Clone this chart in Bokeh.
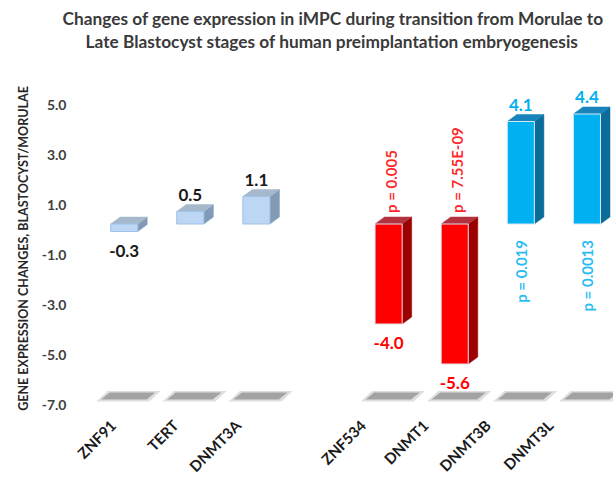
import math
from bokeh.plotting import figure
from bokeh.models import Range1d, FixedTicker, ColumnDataSource, Title
from bokeh.core.properties import value
from bokeh.embed import file_html
from bokeh.resources import INLINE

# ---------------- data ----------------
title_lines = ["Changes of gene expression in iMPC during transition from Morulae to",
               "Late Blastocyst stages of human preimplantation embryogenesis"]
y_label = "GENE EXPRESSION CHANGES, BLASTOCYST/MORULAE"
genes = ["ZNF91", "TERT", "DNMT3A", "ZNF534", "DNMT1", "DNMT3B", "DNMT3L"]
group = [0, 0, 0, 1, 1, 1, 1]
fold_change = [-0.3, 0.5, 1.1, -4.0, -5.6, 4.1, 4.4]
value_labels = ["-0.3", "0.5", "1.1", "-4.0", "-5.6", "4.1", "4.4"]
p_values = ["", "", "", "p = 0.005", "p = 7.55E-09", "p = 0.019", "p = 0.0013"]
y_ticks = [5.0, 3.0, 1.0, -1.0, -3.0, -5.0, -7.0]
y_tick_labels = ["5.0", "3.0", "1.0", "-1.0", "-3.0", "-5.0", "-7.0"]
floor_level = -7.0

# ---------------- styling / layout ----------------
FONT = "Lato"
PALETTE = {
    "light": dict(front="#bcd6f3", top="#a5b8cc", side="#819bb7", text="#1a1a1a", edge="#9ec3ea"),
    "red":   dict(front="#ff0000", top="#b3323e", side="#9c0000", text="#ff0000", edge="#dbe3ee"),
    "blue":  dict(front="#00b0f0", top="#1784bb", side="#0b6c9c", text="#00b0f0", edge="#dbe9f4"),
}
GAP = 1                 # empty slot between the two groups
HALF_W = 0.205          # half width of the bar front face (x units)
DEPTH_X = 0.144         # 3D depth offset (x units)
DEPTH_Y = 0.28          # 3D depth offset (y units)
LIFT = 0.22             # projection shift of front faces

W, H = 613, 485
p = figure(width=W, height=H, output_backend="svg", toolbar_location=None,
           x_range=Range1d(-0.7364, 7.402), y_range=Range1d(-7.08, 5.56),
           min_border_left=75, min_border_right=0, min_border_top=90, min_border_bottom=79)
p.outline_line_color = None
p.grid.visible = False
p.background_fill_color = "white"
p.border_fill_color = "white"

xs_pos = [i + GAP * g for i, g in enumerate(group)]

def kind(i):
    if group[i] == 0:
        return "light"
    return "red" if fold_change[i] < 0 else "blue"

# floor shadows
halo_x, halo_y, core_x, core_y = [], [], [], []
for x in xs_pos:
    c = x + 0.05
    b, t = floor_level + 0.20, floor_level + 0.48
    core_x.append([c - 0.40, c + 0.29, c + 0.42, c - 0.27])
    core_y.append([b, b, t, t])
    halo_x.append([c - 0.47, c + 0.33, c + 0.50, c - 0.30])
    halo_y.append([b - 0.08, b - 0.08, t + 0.06, t + 0.06])
p.patches(halo_x, halo_y, fill_color="#dadada", line_color=None, fill_alpha=0.9)
p.patches(core_x, core_y, fill_color="#a3a3a3", line_color=None)

# 3D bars
for i, (x, v) in enumerate(zip(xs_pos, fold_change)):
    col = PALETTE[kind(i)]
    lo, hi = min(0, v) + LIFT, max(0, v) + LIFT
    xl, xr = x - HALF_W, x + HALF_W
    p.patch([xr, xr + DEPTH_X, xr + DEPTH_X, xr], [lo, lo + DEPTH_Y, hi + DEPTH_Y, hi],
            fill_color=col["side"], line_color=col["side"], line_width=0.5)
    p.patch([xl, xr, xr + DEPTH_X, xl + DEPTH_X], [hi, hi, hi + DEPTH_Y, hi + DEPTH_Y],
            fill_color=col["top"], line_color=col["top"], line_width=0.5)
    p.quad(left=[xl], right=[xr], bottom=[lo], top=[hi],
           fill_color=col["front"], line_color=col["edge"], line_width=1)

def sel(cond):
    return [i for i in range(len(genes)) if cond(i)]

# value labels
pos_i = sel(lambda i: fold_change[i] >= 0)
neg_i = sel(lambda i: fold_change[i] < 0)
for idx, off in ((pos_i, -17), (neg_i, 19)):
    src = ColumnDataSource(dict(
        x=[xs_pos[i] for i in idx],
        y=[fold_change[i] + LIFT for i in idx],
        t=[value_labels[i] for i in idx],
        c=[PALETTE[kind(i)]["text"] for i in idx]))
    p.text(x="x", y="y", text="t", source=src, text_color="c", y_offset=off,
           text_align="center", text_baseline="middle", text_font=value(FONT),
           text_font_style="bold", text_font_size="17px")

# p-value labels (vertical)
up_i = sel(lambda i: p_values[i] != "" and fold_change[i] < 0)
dn_i = sel(lambda i: p_values[i] != "" and fold_change[i] > 0)
up_src = ColumnDataSource(dict(
    x=[xs_pos[i] + 0.04 for i in up_i], y=[LIFT + DEPTH_Y for i in up_i],
    t=[p_values[i] for i in up_i], c=[PALETTE[kind(i)]["text"] for i in up_i]))
dn_src = ColumnDataSource(dict(
    x=[xs_pos[i] for i in dn_i], y=[LIFT for i in dn_i],
    t=[p_values[i] for i in dn_i], c=[PALETTE[kind(i)]["text"] for i in dn_i]))
p.text(x="x", y="y", text="t", source=up_src, text_color="c", angle=math.pi / 2,
       y_offset=-4, text_align="left", text_baseline="middle", text_font=value(FONT),
       text_font_style="bold", text_font_size="15px", text_alpha=0.85)
p.text(x="x", y="y", text="t", source=dn_src, text_color="c", angle=math.pi / 2,
       y_offset=16, text_align="right", text_baseline="middle", text_font=value(FONT),
       text_font_style="bold", text_font_size="15px", text_alpha=0.85)

# y axis
p.yaxis.ticker = FixedTicker(ticks=y_ticks)
p.yaxis.major_label_overrides = {t: l for t, l in zip(y_ticks, y_tick_labels)}
p.yaxis.axis_line_color = None
p.yaxis.major_tick_line_color = None
p.yaxis.minor_tick_line_color = None
p.yaxis.major_label_standoff = 3
p.yaxis.major_label_text_font = FONT
p.yaxis.major_label_text_font_style = "bold"
p.yaxis.major_label_text_font_size = "14px"
p.yaxis.major_label_text_color = "#404040"
p.yaxis.axis_label = y_label
p.yaxis.axis_label_text_font = FONT
p.yaxis.axis_label_text_font_style = "bold"
p.yaxis.axis_label_text_font_size = "12.5px"
p.yaxis.axis_label_text_color = "#262626"
p.yaxis.axis_label_standoff = 8

# x axis (category labels)
x_ticks = [round(x - 0.17 - 0.055 * x, 3) for x in xs_pos]
p.xaxis.ticker = FixedTicker(ticks=x_ticks)
p.xaxis.major_label_overrides = {t: g for t, g in zip(x_ticks, genes)}
p.xaxis.major_label_orientation = math.pi / 4
p.xaxis.axis_line_color = None
p.xaxis.major_tick_line_color = None
p.xaxis.minor_tick_line_color = None
p.xaxis.major_label_standoff = 10
p.xaxis.major_label_text_font = FONT
p.xaxis.major_label_text_font_style = "bold"
p.xaxis.major_label_text_font_size = "15px"
p.xaxis.major_label_text_color = "#1a1a1a"

# title: the first panel added sits nearest the frame, the figure's own title farthest
spacer = Title(text=" ", standoff=16)
line2 = Title(text=title_lines[1], standoff=0, offset=10)
p.add_layout(spacer, "above")
p.add_layout(line2, "above")
p.title.text = title_lines[0]
p.title.standoff = 0
p.title.offset = -13
for t in (p.title, line2, spacer):
    t.align = "left"
    t.text_font = FONT
    t.text_font_style = "bold"
    t.text_font_size = "17.3px"
    t.text_color = "#3a3a3a"

open("out.html", "w").write(file_html(p, INLINE))
